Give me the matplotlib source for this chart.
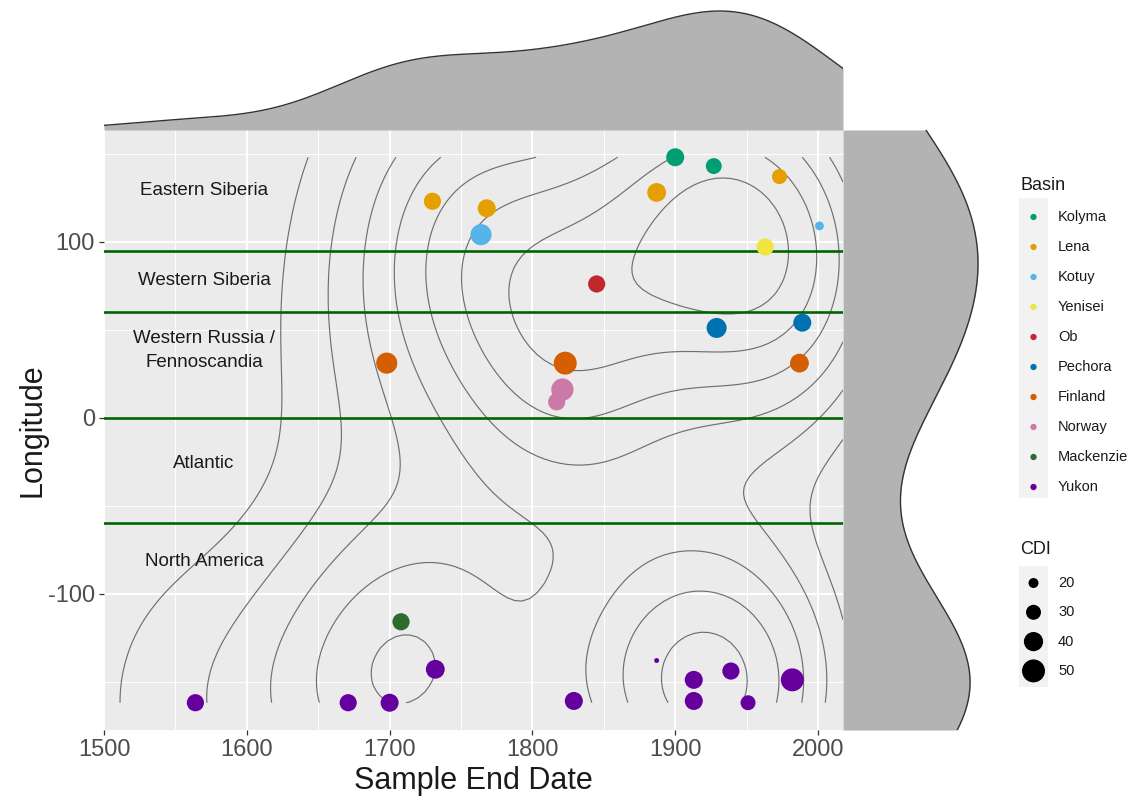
import numpy as np
import matplotlib
matplotlib.use("Agg")
import matplotlib.pyplot as plt
from matplotlib.ticker import MaxNLocator, MultipleLocator

plt.rcParams["font.family"] = ["Liberation Sans", "DejaVu Sans"]
plt.rcParams["axes.unicode_minus"] = False

# ---- data -------------------------------------------------------------
basin_names = ["Kolyma", "Lena", "Kotuy", "Yenisei", "Ob", "Pechora",
               "Finland", "Norway", "Mackenzie", "Yukon"]
basin_colors = ["#009E73", "#E69F00", "#56B4E9", "#F0E442", "#C1272D",
                "#0072B2", "#D55E00", "#CC79A7", "#2E6B2E", "#65009E"]

point_basin = ["Kolyma", "Kolyma",
               "Lena", "Lena", "Lena", "Lena",
               "Kotuy", "Kotuy",
               "Yenisei",
               "Ob",
               "Pechora", "Pechora",
               "Finland", "Finland", "Finland",
               "Norway", "Norway",
               "Mackenzie",
               "Yukon", "Yukon", "Yukon", "Yukon", "Yukon", "Yukon",
               "Yukon", "Yukon", "Yukon", "Yukon", "Yukon"]
end_date = [1900, 1927,
            1730, 1768, 1887, 1973,
            1764, 2001,
            1963,
            1845,
            1929, 1989,
            1698, 1823, 1987,
            1821, 1817,
            1708,
            1564, 1671, 1700, 1732, 1829, 1887,
            1913, 1913, 1939, 1951, 1982]
longitude = [148, 143,
             123, 119, 128, 137,
             104, 109,
             97,
             76,
             51, 54,
             31, 31, 31,
             16, 9,
             -116,
             -162, -162, -162, -143, -161, -138,
             -149, -161, -144, -162, -149]
cdi = [37, 32,
       35, 37, 39, 30,
       45, 18,
       35,
       35,
       42, 37,
       45, 50, 39,
       48, 35,
       35,
       35, 35, 37, 39, 37, 12,
       37, 37, 35, 30, 50]

region_names = ["Eastern Siberia", "Western Siberia",
                "Western Russia /\nFennoscandia", "Atlantic", "North America"]
region_lon = [129, 78, 38, -26, -82]
boundary_lon = [95, 60, 0, -60]
x_ticks = [1500, 1600, 1700, 1800, 1900, 2000]
y_ticks = [-100, 0, 100]
cdi_breaks = [20, 30, 40, 50]

# ---- derived quantities ---------------------------------------------------
x = np.asarray(end_date, float)
y = np.asarray(longitude, float)
color_of = dict(zip(basin_names, basin_colors))
pt_colors = [color_of[b] for b in point_basin]

DPI = 100
W, H = 1139, 800


def size_pt2(c):
    """CDI -> scatter marker area (points^2); diameter grows with sqrt(CDI)."""
    d_px = 5.0 * np.sqrt(np.asarray(c, float)) - 12.4
    return (d_px * 72.0 / DPI) ** 2


def sd_nrd(v):
    q1, q3 = np.percentile(v, [25, 75])
    return 1.06 * min(v.std(ddof=1), (q3 - q1) / 1.34) * len(v) ** -0.2


def bw_nrd0(v):
    q1, q3 = np.percentile(v, [25, 75])
    return 0.9 * min(v.std(ddof=1), (q3 - q1) / 1.34) * len(v) ** -0.2


def kde1d(v, grid, bw):
    z = (grid[:, None] - v[None, :]) / bw
    return np.exp(-0.5 * z ** 2).sum(axis=1) / (len(v) * bw * np.sqrt(2 * np.pi))


xlim = (1500, 2017.5)
yr = y.max() - y.min()
ylim = (y.min() - 0.05 * yr, y.max() + 0.05 * yr)

# 2-D density for the contour layer
gx = np.linspace(xlim[0], xlim[1], 100)
gy = np.linspace(y.min(), y.max(), 100)
hx, hy = sd_nrd(x), sd_nrd(y)
kx = np.exp(-0.5 * ((gx[:, None] - x[None, :]) / hx) ** 2)
ky = np.exp(-0.5 * ((gy[:, None] - y[None, :]) / hy) ** 2)
Z = (ky @ kx.T) / (len(x) * 2 * np.pi * hx * hy)
levels = MaxNLocator(nbins=10, steps=[1, 2, 5, 10]).tick_values(Z.min(), Z.max())
levels = levels[(levels > Z.min()) & (levels < Z.max())]

# ---- figure ---------------------------------------------------------------
fig = plt.figure(figsize=(W / DPI, H / DPI), dpi=DPI)


def px_axes(x0, y0, x1, y1):
    return fig.add_axes([x0 / W, 1 - y1 / H, (x1 - x0) / W, (y1 - y0) / H])


main = px_axes(104, 130, 843, 730)
top = px_axes(104, 0, 843, 130)
right = px_axes(843, 130, 1000, 730)
over = fig.add_axes([0, 0, 1, 1], facecolor="none")
over.set_xlim(0, W)
over.set_ylim(H, 0)
over.axis("off")

# main panel
main.set_facecolor("#EBEBEB")
for s in main.spines.values():
    s.set_visible(False)
main.set_xlim(*xlim)
main.set_ylim(*ylim)
main.set_xticks(x_ticks)
main.set_yticks(y_ticks)
main.xaxis.set_minor_locator(MultipleLocator(50))
main.yaxis.set_minor_locator(MultipleLocator(50))
main.grid(which="major", color="white", linewidth=1.4)
main.grid(which="minor", color="white", linewidth=0.7)
main.set_axisbelow(True)
main.tick_params(which="major", length=3.5, width=0.9, color="#333333",
                 labelsize=17, labelcolor="#4D4D4D", pad=3)
main.tick_params(which="minor", length=0)

main.contour(gx, gy, Z, levels=levels, colors="#707070", linewidths=0.85,
             zorder=2)
for lon in boundary_lon:
    main.axhline(lon, color="#006400", linewidth=1.9, zorder=3)
main.scatter(x, y, s=size_pt2(cdi), c=pt_colors, edgecolors="none", zorder=4)

for name, lon in zip(region_names, region_lon):
    main.text(1570, lon, name, ha="center", va="center", fontsize=13.5,
              color="#1A1A1A", linespacing=1.55, zorder=5)

# top marginal density (sample end date)
fx = np.linspace(xlim[0], xlim[1], 512)
dx = kde1d(x, fx, bw_nrd0(x))
top.fill_between(fx, 0, dx, color="#B3B3B3", linewidth=0)
top.plot(fx, dx, color="#333333", linewidth=1.0)
top.set_xlim(*xlim)
top.set_ylim(0, dx.max() * 130 / 119)
top.axis("off")

# right marginal density (longitude)
fy = np.linspace(ylim[0], ylim[1], 512)
dy = kde1d(y, fy, bw_nrd0(y))
right.fill_betweenx(fy, 0, dy, color="#B3B3B3", linewidth=0)
right.plot(dy, fy, color="#333333", linewidth=1.0)
right.set_ylim(*ylim)
right.set_xlim(0, dy.max() * 157 / 135)
right.axis("off")

# axis titles
over.text(473, 781, "Sample End Date", ha="center", va="center",
          fontsize=22, color="#1A1A1A")
over.text(32, 430, "Longitude", ha="center", va="center", rotation=90,
          fontsize=22, color="#1A1A1A")

# legend: Basin
over.text(1020, 185, "Basin", ha="left", va="center", fontsize=13,
          color="#1A1A1A")
over.add_patch(plt.Rectangle((1019, 198), 29, 300, color="#F2F2F2",
                             linewidth=0))
for i, (name, col) in enumerate(zip(basin_names, basin_colors)):
    yy = 217 + 30 * i
    over.scatter([1033.5], [yy], s=size_pt2(14), color=col, edgecolors="none")
    over.text(1058, yy, name, ha="left", va="center", fontsize=10.5,
              color="#1A1A1A")

# legend: CDI
over.text(1020, 550, "CDI", ha="left", va="center", fontsize=13,
          color="#1A1A1A")
over.add_patch(plt.Rectangle((1019, 566), 29, 121, color="#F2F2F2",
                             linewidth=0))
for i, b in enumerate(cdi_breaks):
    yy = 583 + 29.3 * i
    over.scatter([1033.5], [yy], s=size_pt2(b), color="black",
                 edgecolors="none")
    over.text(1058, yy, str(b), ha="left", va="center", fontsize=10.5,
              color="#1A1A1A")

fig.savefig("out.png", dpi=DPI)
